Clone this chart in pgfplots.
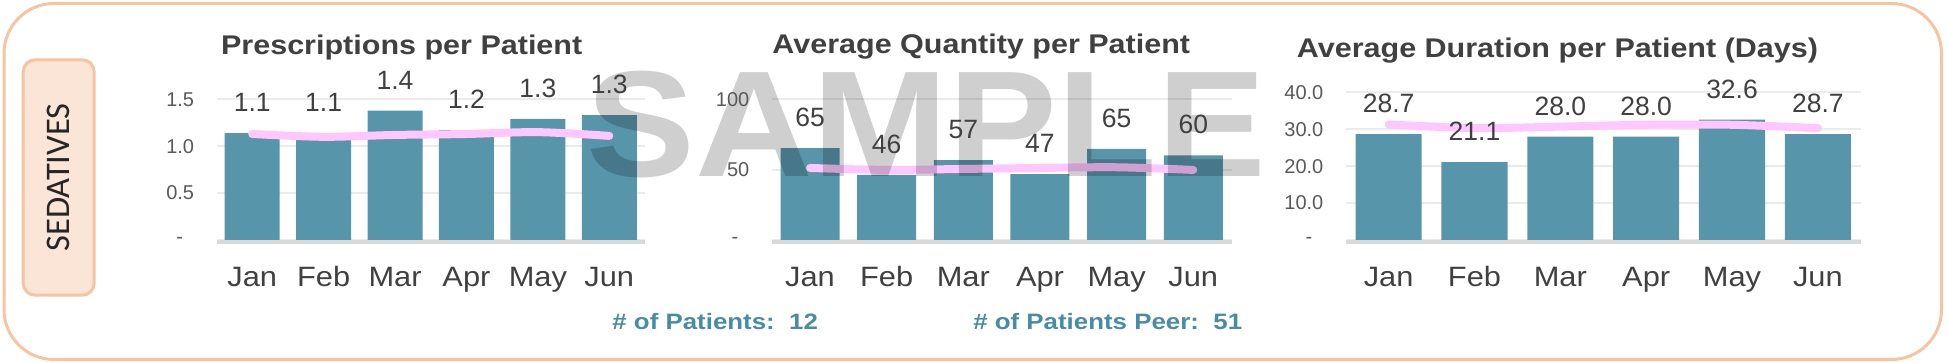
\documentclass[border=0pt]{standalone}
\usepackage{pgfplots}
\pgfplotsset{compat=1.18}
\usepackage{graphicx}
\usepackage{fontspec}
\setmainfont{Liberation Sans}
\newfontfamily\carlito{Carlito}

\definecolor{barteal}{RGB}{87,149,170}
\definecolor{peer}{RGB}{255,198,255}
\definecolor{gridgray}{RGB}{235,235,235}
\definecolor{axisgray}{RGB}{217,217,217}
\definecolor{txt}{RGB}{64,64,64}
\definecolor{ticktxt}{RGB}{89,89,89}
\definecolor{framecol}{RGB}{246,196,160}
\definecolor{boxfill}{RGB}{251,229,214}
\definecolor{foot}{RGB}{72,140,162}

\newcommand\monthfont{\fontsize{14pt}{16pt}\selectfont}
\newcommand\tickfont{\fontsize{10pt}{12pt}\selectfont}
\newcommand\labelfont{\fontsize{13.25pt}{15pt}\selectfont}
\newcommand\titlefont{\fontsize{13.5pt}{16pt}\selectfont\bfseries}
\newcommand\footfont{\fontsize{11.15pt}{13pt}\selectfont\bfseries}
\newcommand\mon[1]{\scalebox{1.1}[1]{#1}}

\pgfplotsset{
  common/.style={scale only axis, anchor=south west, xmin=-0.5, xmax=5.5, ymin=0,
    axis line style={draw=none}, major tick length=0pt, tick style={draw=none},
    xtick={0,...,5}, clip=false},
  pass1/.style={common, ymajorgrids, grid style={gridgray, line width=1pt},
    xticklabels={}, yticklabels={}},
  pass2/.style={common, xticklabels={\mon{Jan},\mon{Feb},\mon{Mar},\mon{Apr},\mon{May},\mon{Jun}},
    xticklabel style={anchor=base, inner sep=0pt, yshift=-23.5pt, font=\monthfont, text=txt},
    yticklabel style={anchor=east, inner sep=0pt, xshift=-11pt, font=\tickfont, text=ticktxt}},
  bars/.style={ybar, bar width=0.77, bar shift=0pt, fill=barteal, draw=none},
  peerline/.style={smooth, peer, line width=4pt, line cap=round, mark=none},
  lbl/.style={draw=none, mark=none, point meta=explicit symbolic,
    nodes near coords={\labelfont\pgfplotspointmeta},
    nodes near coords style={anchor=base, yshift=10.75pt, text=txt, inner sep=0pt}},
}

\pgfplotstableread{
x a b
0 1.14 1.13
1 1.14 1.10
2 1.38 1.12
3 1.17 1.13
4 1.29 1.15
5 1.33 1.11
}\chartA
\pgfplotstableread{
x a b
0 65.3 51.2
1 46.2 49.8
2 56.8 50.5
3 46.8 51.2
4 64.8 51.7
5 60.2 49.8
}\chartB
\pgfplotstableread{
x a b
0 28.7 31.3
1 21.1 30.3
2 28.0 30.7
3 28.0 31.2
4 32.6 31.2
5 28.7 30.3
}\chartC

\begin{document}
\begin{tikzpicture}
\useasboundingbox (0,0) rectangle (973.5pt,181.5pt);
% outer frame
\draw[framecol, line width=1.5pt, rounded corners=25pt] (2pt,1.75pt) rectangle (970.75pt,179.75pt);
% side box
\draw[framecol, fill=boxfill, line width=1.5pt, rounded corners=6pt] (11.6pt,33.9pt) rectangle (47.1pt,151.6pt);
\node[rotate=90, text=black!85, inner sep=0pt, font=\carlito\fontsize{17.25pt}{20pt}\selectfont] at (29.35pt,92.75pt) {SEDATIVES};

% ---------- pass 1: grids, bars, peer lines ----------
\begin{axis}[pass1, at={(108.25pt,61.5pt)}, width=214.25pt, height=70.35pt, ymax=1.5, ytick={0,0.5,1,1.5}]
\addplot[bars] table[x=x,y=a] {\chartA};
\draw[axisgray, line width=2pt] ([yshift=-1pt]axis cs:-0.5,0) -- ([yshift=-1pt]axis cs:5.5,0);
\addplot[peerline] table[x=x,y=b] {\chartA};
\end{axis}
\begin{axis}[pass1, at={(385.85pt,61.5pt)}, width=229.95pt, height=70.35pt, ymax=100, ytick={0,50,100}]
\addplot[bars] table[x=x,y=a] {\chartB};
\draw[axisgray, line width=2pt] ([yshift=-1pt]axis cs:-0.5,0) -- ([yshift=-1pt]axis cs:5.5,0);
\addplot[peerline] table[x=x,y=b] {\chartB};
\end{axis}
\begin{axis}[pass1, at={(672.85pt,61.5pt)}, width=257.55pt, height=73.85pt, ymax=40, ytick={0,10,20,30,40}]
\addplot[bars] table[x=x,y=a] {\chartC};
\draw[axisgray, line width=2pt] ([yshift=-1pt]axis cs:-0.5,0) -- ([yshift=-1pt]axis cs:5.5,0);
\addplot[peerline] table[x=x,y=b] {\chartC};
\end{axis}

% ---------- watermark ----------
\node[anchor=base west, inner sep=0pt, text=black, text opacity=0.19,
      font=\fontsize{75.5pt}{80pt}\selectfont\bfseries] at (293pt,93pt) {\scalebox{1.08}[1]{SAMPLE}};

% ---------- pass 2: labels ----------
\begin{axis}[pass2, at={(108.25pt,61.5pt)}, width=214.25pt, height=70.35pt, ymax=1.5,
  ytick={0,0.5,1,1.5}, yticklabels={{-\kern5.5pt},0.5,1.0,1.5}]
\addplot[lbl] coordinates {(0,1.14) [1.1] (1,1.14) [1.1] (2,1.38) [1.4] (3,1.17) [1.2] (4,1.29) [1.3] (5,1.33) [1.3]};
\end{axis}
\begin{axis}[pass2, at={(385.85pt,61.5pt)}, width=229.95pt, height=70.35pt, ymax=100,
  ytick={0,50,100}, yticklabels={{-\kern5.5pt},50,100}]
\addplot[lbl] coordinates {(0,65.3) [65] (1,46.2) [46] (2,56.8) [57] (3,46.8) [47] (4,64.8) [65] (5,60.2) [60]};
\end{axis}
\begin{axis}[pass2, at={(672.85pt,61.5pt)}, width=257.55pt, height=73.85pt, ymax=40,
  ytick={0,10,20,30,40}, yticklabels={{-\kern5.5pt},10.0,20.0,30.0,40.0}]
\addplot[lbl] coordinates {(0,28.7) [28.7] (1,21.1) [21.1] (2,28.0) [28.0] (3,28.0) [28.0] (4,32.6) [32.6] (5,28.7) [28.7]};
\end{axis}

% titles
\node[anchor=base, inner sep=0pt, text=txt, font=\titlefont] at (200.85pt,154.35pt) {\scalebox{1.13}[1]{Prescriptions per Patient}};
\node[anchor=base, inner sep=0pt, text=txt, font=\titlefont] at (490.65pt,154.5pt) {\scalebox{1.13}[1]{Average Quantity per Patient}};
\node[anchor=base, inner sep=0pt, text=txt, font=\titlefont] at (778.75pt,152.85pt) {\scalebox{1.13}[1]{Average Duration per Patient (Days)}};

% footer
\node[anchor=base west, inner sep=0pt, text=foot, font=\footfont] at (306pt,16.85pt) {\scalebox{1.16}[1]{\# of Patients:\ \ 12}};
\node[anchor=base west, inner sep=0pt, text=foot, font=\footfont] at (486.45pt,16.85pt) {\scalebox{1.16}[1]{\# of Patients Peer:\ \ 51}};
\end{tikzpicture}
\end{document}
